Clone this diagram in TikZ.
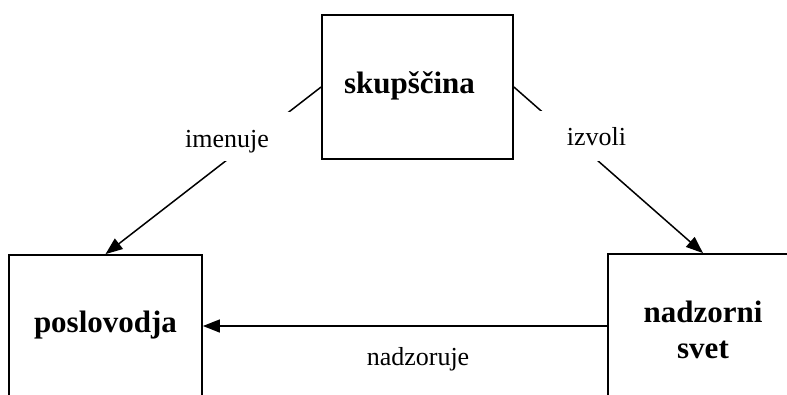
\documentclass[tikz,border=0pt]{standalone}
\usepackage{fontspec}
\setmainfont{Liberation Serif}
\usetikzlibrary{arrows.meta}
\begin{document}
\begin{tikzpicture}[x=1pt,y=-1pt,
  box/.style={draw=black, line width=1.8pt, inner sep=0pt},
  boxtext/.style={font=\bfseries\fontsize{31}{36}\selectfont, anchor=base, inner sep=0pt, align=center},
  lbl/.style={font=\fontsize{26}{30}\selectfont, anchor=base, inner sep=0pt},
  arr/.style={line width=1.5pt, -{Triangle[length=17pt,width=13pt]}},
  cover/.style={fill=white, draw=none}]
\useasboundingbox (0,0) rectangle (787,394);
\clip (0,0) rectangle (787,394);
\fill[white] (0,0) rectangle (787,394);
% boxes
\node[box, minimum width=191pt, minimum height=144pt] (sk) at (417.5,87) {};
\node[box, minimum width=193pt, minimum height=142pt] (pv) at (105.5,326) {};
\node[box, minimum width=190pt, minimum height=144pt] (ns) at (703,326) {};
% box texts
\node[boxtext] (skt) at (409.5,93) {skupščina};
\node[boxtext] (pvt) at (105.5,332) {poslovodja};
\node[boxtext] (nst) at (703,358) {nadzorni\\svet};
% connectors
\draw[arr] (sk.west) -- (pv.north);
\draw[arr] (sk.east) -- (ns.north);
\draw[arr] (ns.west) -- (pv.east);
% label backgrounds interrupting the lines
\fill[cover] (175,112) rectangle (290,161);
\fill[cover] (540,111) rectangle (653,161);
% labels
\node[lbl] (l1) at (227,147) {imenuje};
\node[lbl] (l2) at (596.5,145) {izvoli};
\node[lbl] (l3) at (418,365) {nadzoruje};
\end{tikzpicture}
\end{document}
